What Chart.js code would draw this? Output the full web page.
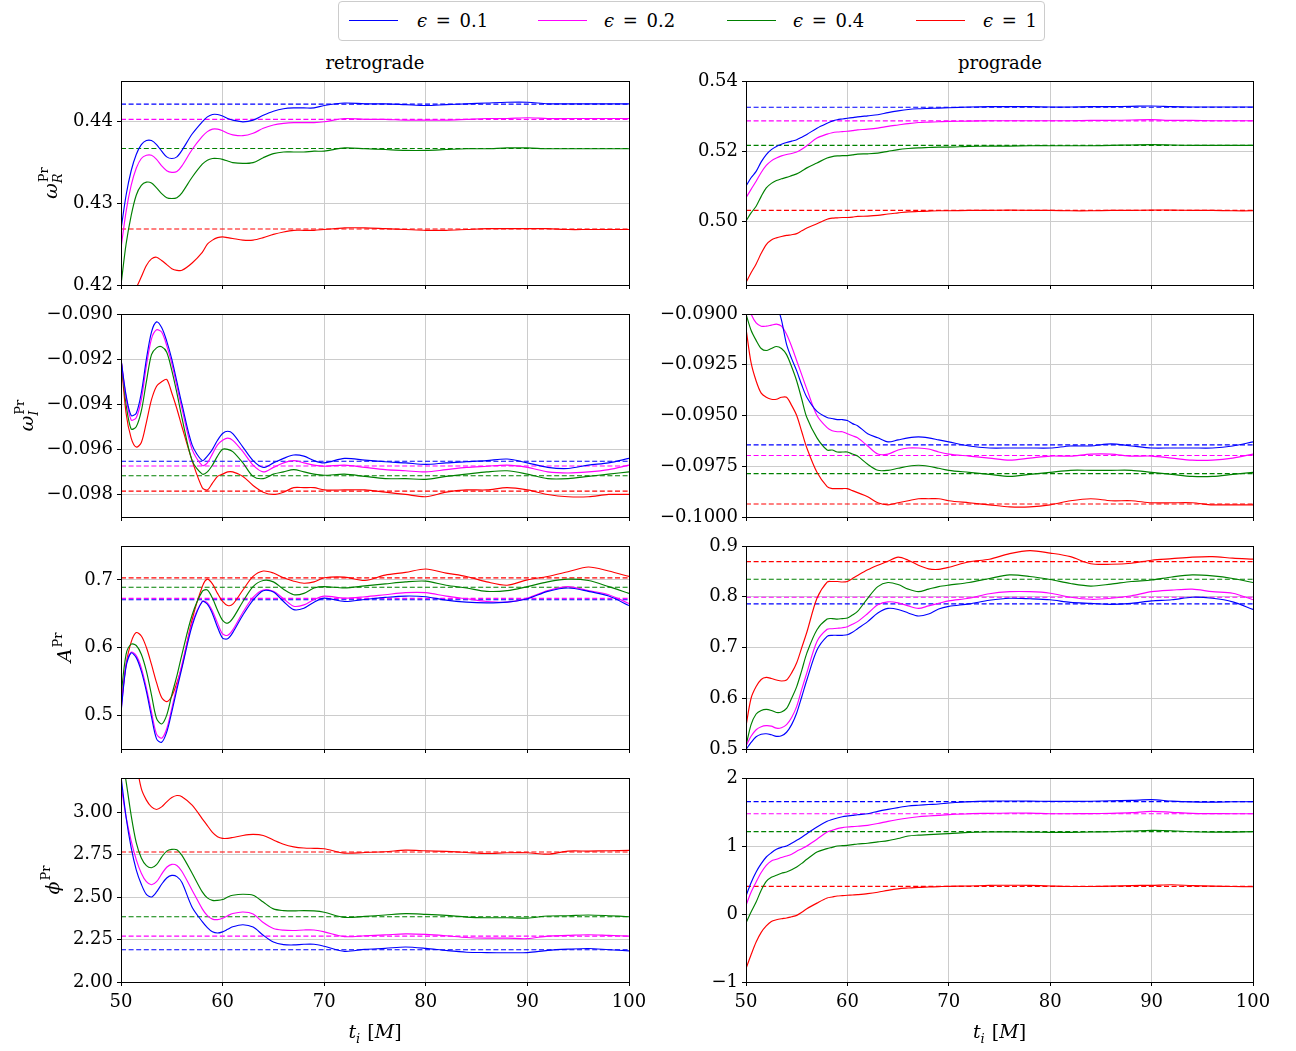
<!DOCTYPE html>
<html>
<head>
<meta charset="utf-8">
<script src="https://cdn.jsdelivr.net/npm/chart.js@4"></script>
<style>
  body { margin: 0; background: #fff; }
  #wrap { position: relative; width: 1296px; height: 1051px; overflow: hidden; font-family: "DejaVu Serif", serif; color: #000; }
  #wrap canvas { position: absolute; }
  #legend { position: absolute; left: 338px; top: 1px; width: 705px; height: 38px; border: 1.5px solid #cccccc; border-radius: 4px; background: #fff; z-index: 5; }
  .swatch { position: absolute; top: 18px; width: 49px; height: 0; border-top: 1.3px solid; }
  .lab { position: absolute; top: 8px; font-size: 18px; word-spacing: 3px; white-space: nowrap; }
  .coltitle { position: absolute; top: 52px; font-size: 18px; transform: translateX(-50%); white-space: nowrap; }
</style>
</head>
<body>
<div id="wrap">
  <div id="legend"></div>
  <div class="coltitle" style="left:375px">retrograde</div>
  <div class="coltitle" style="left:1000px">prograde</div>
</div>
<script>
// time samples t_i [M] shared by every curve
const tGrid = [50, 50.5, 51, 51.5, 52, 52.5, 53, 53.5, 54, 54.5,
  55, 55.5, 56, 57, 58, 58.5, 59, 59.5, 60, 60.5,
  61, 62, 63, 64, 65, 66, 67, 68, 69, 70,
  72, 74, 76, 78, 80, 82, 84, 86, 88, 90,
  92, 94, 96, 98, 100];

const epsLabels = ['0.1', '0.2', '0.4', '1'];
const epsColors = ['#0000ff', '#ff00ff', '#008000', '#ff0000'];
const xTicks = [50, 60, 70, 80, 90, 100];

// omega_R retrograde
const omRRetro01 = [.4268, .4310, .4340, .4360, .4372, .4377, .4377, .4372, .4364, .4357,
  .4355, .4357, .4365, .4385, .4400, .4406, .4409, .4409, .4407, .4404,
  .4402, .4400, .4402, .4408, .4413, .4416, .4417, .4417, .4417, .4420,
  .4423, .4422, .4422, .4421, .4420, .4421, .4422, .4423, .4424, .4424,
  .4422, .4422, .4422, .4422, .4422];
const omRRetro02 = [.4245, .4290, .4322, .4343, .4355, .4359, .4359, .4354, .4346, .4340,
  .4338, .4339, .4346, .4366, .4382, .4388, .4391, .4391, .4389, .4386,
  .4384, .4383, .4386, .4392, .4396, .4398, .4399, .4399, .4399, .4400,
  .4404, .4403, .4403, .4402, .4402, .4402, .4403, .4404, .4404, .4405,
  .4404, .4404, .4404, .4404, .4404];
const omRRetro04 = [.4200, .4250, .4285, .4310, .4322, .4326, .4325, .4319, .4312, .4307,
  .4306, .4307, .4313, .4332, .4348, .4353, .4355, .4355, .4354, .4352,
  .4350, .4349, .4350, .4356, .4361, .4363, .4363, .4363, .4364, .4364,
  .4368, .4367, .4366, .4365, .4365, .4366, .4367, .4367, .4368, .4368,
  .4367, .4367, .4367, .4367, .4367];
const omRRetro1 = [.4130, .4155, .4178, .4196, .4210, .4224, .4232, .4234, .4230, .4225,
  .4220, .4218, .4218, .4227, .4240, .4250, .4255, .4258, .4259, .4258,
  .4257, .4255, .4255, .4258, .4262, .4265, .4267, .4267, .4267, .4268,
  .4270, .4270, .4269, .4268, .4267, .4267, .4268, .4269, .4269, .4269,
  .4269, .4268, .4268, .4268, .4268];
const omRRetroRef = [0.44216, 0.44029, 0.43673, 0.42686];
const omRRetroTicks = [0.42, 0.43, 0.44];

// omega_R prograde
const omRPro01 = [.5101, .5125, .5143, .5170, .5191, .5205, .5214, .5220, .5225, .5229,
  .5233, .5240, .5248, .5266, .5280, .5286, .5290, .5292, .5294, .5296,
  .5298, .5301, .5304, .5310, .5315, .5319, .5321, .5322, .5323, .5324,
  .5326, .5327, .5327, .5327, .5326, .5326, .5327, .5327, .5328, .5329,
  .5327, .5326, .5326, .5326, .5326];
const omRPro02 = [.5068, .5092, .5115, .5140, .5160, .5173, .5181, .5187, .5191, .5194,
  .5198, .5206, .5216, .5238, .5249, .5253, .5255, .5256, .5257, .5259,
  .5261, .5263, .5266, .5271, .5275, .5279, .5282, .5283, .5284, .5285,
  .5286, .5287, .5287, .5287, .5287, .5287, .5288, .5288, .5289, .5290,
  .5288, .5288, .5287, .5287, .5287];
const omRPro04 = [.5002, .5025, .5044, .5072, .5096, .5109, .5117, .5122, .5126, .5131,
  .5136, .5144, .5153, .5167, .5181, .5185, .5187, .5188, .5188, .5190,
  .5192, .5193, .5195, .5200, .5205, .5208, .5210, .5211, .5212, .5212,
  .5214, .5215, .5215, .5216, .5216, .5216, .5216, .5217, .5218, .5219,
  .5218, .5217, .5217, .5217, .5217];
const omRPro1 = [.4827, .4855, .4880, .4910, .4935, .4948, .4954, .4958, .4961, .4963,
  .4966, .4974, .4982, .4994, .5007, .5010, .5011, .5012, .5012, .5013,
  .5015, .5016, .5018, .5022, .5025, .5028, .5029, .5030, .5031, .5031,
  .5032, .5032, .5033, .5032, .5032, .5031, .5031, .5032, .5032, .5033,
  .5033, .5032, .5032, .5031, .5031];
const omRProRef = [0.53255, 0.52868, 0.5217, 0.5032];
const omRProTicks = [0.50, 0.52, 0.54];

// omega_I retrograde
const omIRetro01 = [-.0920, -.0936, -.0945, -.0944, -.0935, -.0920, -.0908, -.09035, -.0906, -.0912,
  -.0920, -.0930, -.0940, -.0958, -.0965, -.0963, -.0960, -.0956, -.0953, -.0952,
  -.0953, -.0959, -.0965, -.0968, -.0966, -.0964, -.09625, -.0963, -.0965, -.0966,
  -.0964, -.09648, -.09655, -.0966, -.09667, -.0966, -.09655, -.0965, -.09643, -.0966,
  -.0968, -.09685, -.0967, -.0966, -.0964];
const omIRetro02 = [-.0920, -.0937, -.0947, -.0946, -.0938, -.0923, -.0911, -.0907, -.0908, -.0914,
  -.0922, -.0932, -.0942, -.0960, -.09672, -.0966, -.0962, -.0958, -.0956, -.0955,
  -.0956, -.0961, -.0967, -.0970, -.0968, -.0966, -.0965, -.0966, -.0967, -.09675,
  -.0967, -.0968, -.0969, -.09695, -.0970, -.0969, -.0968, -.09675, -.0967, -.0968,
  -.0970, -.09705, -.0970, -.0969, -.0967];
const omIRetro04 = [-.0920, -.0940, -.0951, -.0950, -.0943, -.0930, -.0918, -.0915, -.09145, -.0917,
  -.0925, -.0935, -.0946, -.0965, -.0971, -.0970, -.0967, -.0963, -.0960, -.0960,
  -.0961, -.0966, -.0972, -.0973, -.0971, -.0970, -.0969, -.0970, -.0971, -.09715,
  -.0971, -.0972, -.0973, -.0973, -.09733, -.0972, -.0971, -.0970, -.09695, -.0971,
  -.0973, -.0973, -.0972, -.0971, -.0970];
const omIRetro1 = [-.0920, -.0944, -.0955, -.0959, -.0957, -.0948, -.0938, -.0932, -.0930, -.0929,
  -.0935, -.0942, -.0950, -.0965, -.0977, -.0978, -.0975, -.0972, -.0971, -.0970,
  -.0970, -.0972, -.0976, -.0979, -.0980, -.0979, -.0977, -.0977, -.0977, -.0978,
  -.0978, -.0978, -.0979, -.0980, -.0981, -.0979, -.0978, -.0978, -.0977, -.0978,
  -.0980, -.0981, -.0981, -.0980, -.0980];
const omIRetroRef = [-0.09653, -0.09674, -0.09717, -0.09785];
const omIRetroTicks = [-0.098, -0.096, -0.094, -0.092, -0.090];

// omega_I prograde
const omIPro01 = [-.0880, -.0882, -.0884, -.0886, -.0887, -.0889, -.0895, -.0903, -.0915, -.0922,
  -.0928, -.0935, -.0941, -.0948, -.0951, -.09515, -.0952, -.0952, -.09525, -.0954,
  -.0955, -.0959, -.0961, -.0963, -.0962, -.0961, -.09605, -.0961, -.0962, -.0963,
  -.0965, -.0966, -.0966, -.0966, -.0966, -.0965, -.0965, -.0964, -.0965, -.0966,
  -.0966, -.0966, -.0966, -.0965, -.0963];
const omIPro02 = [-.0893, -.0900, -.09044, -.0906, -.0906, -.09055, -.0905, -.0906, -.0910, -.0916,
  -.0923, -.0930, -.0937, -.0950, -.0956, -.09575, -.0958, -.0958, -.0959, -.0960,
  -.0961, -.0965, -.0969, -.0969, -.0967, -.0966, -.0966, -.09665, -.0968, -.0969,
  -.0970, -.0971, -.0972, -.0971, -.0970, -.0970, -.0969, -.0969, -.0970, -.0970,
  -.0971, -.0972, -.0972, -.0971, -.0969];
const omIPro04 = [-.0900, -.0908, -.0913, -.0917, -.0918, -.0917, -.0916, -.0917, -.0920, -.0926,
  -.0933, -.0942, -.0951, -.0961, -.0967, -.0967, -.0968, -.0968, -.0968, -.0969,
  -.0970, -.0974, -.0977, -.0977, -.0976, -.0975, -.09745, -.0975, -.0976, -.0977,
  -.0978, -.0979, -.0980, -.0979, -.0978, -.0977, -.0977, -.0977, -.0977, -.0978,
  -.0979, -.0980, -.0980, -.0979, -.0978];
const omIPro1 = [-.0907, -.0924, -.0933, -.0939, -.0941, -.0942, -.0942, -.0941, -.0941, -.0945,
  -.0950, -.0958, -.0966, -.0978, -.0985, -.0986, -.0986, -.0986, -.0986, -.0987,
  -.0988, -.0990, -.0993, -.0994, -.0993, -.0992, -.0991, -.0991, -.0991, -.0992,
  -.0993, -.0994, -.0995, -.0995, -.0994, -.0992, -.0991, -.0992, -.0992, -.0993,
  -.0993, -.0993, -.0994, -.0994, -.0994];
const omIProRef = [-0.09645, -0.09697, -0.09786, -0.09936];
const omIProTicks = [-0.1, -0.0975, -0.095, -0.0925, -0.09];

// amplitude retrograde
const ampRetro01 = [.504, .572, .592, .585, .565, .535, .498, .465, .460, .475,
  .505, .538, .570, .632, .668, .664, .650, .630, .614, .613,
  .622, .648, .670, .684, .682, .668, .656, .658, .667, .673,
  .668, .671, .674, .676, .675, .670, .667, .666, .667, .672,
  .683, .688, .683, .676, .662];
const ampRetro02 = [.506, .574, .593, .588, .570, .540, .505, .472, .466, .480,
  .510, .543, .575, .636, .668, .666, .654, .636, .620, .618,
  .626, .652, .674, .685, .683, .672, .661, .663, .671, .676,
  .673, .675, .678, .681, .681, .676, .672, .668, .667, .673,
  .684, .690, .684, .678, .665];
const ampRetro04 = [.528, .590, .605, .603, .590, .565, .530, .495, .487, .500,
  .530, .558, .590, .648, .683, .685, .673, .655, .640, .636,
  .643, .668, .690, .699, .697, .686, .678, .680, .688, .690,
  .688, .691, .694, .697, .698, .692, .688, .683, .684, .690,
  .697, .701, .699, .690, .680];
const ampRetro1 = [.514, .575, .608, .622, .617, .600, .575, .548, .526, .520,
  .528, .548, .572, .641, .690, .701, .694, .680, .668, .662,
  .664, .685, .705, .713, .710, .703, .698, .695, .697, .703,
  .704, .699, .707, .711, .716, .710, .705, .697, .692, .700,
  .705, .712, .719, .713, .705];
const ampRetroRef = [0.6706, 0.6725, 0.689, 0.703];
const ampRetroTicks = [0.5, 0.6, 0.7];

// amplitude prograde
const ampPro01 = [.499, .513, .524, .529, .530, .528, .525, .526, .533, .548,
  .571, .603, .636, .695, .722, .724, .724, .724, .725, .730,
  .737, .751, .768, .777, .775, .768, .762, .766, .776, .781,
  .786, .793, .797, .796, .794, .789, .787, .785, .787, .792,
  .794, .799, .797, .790, .775];
const ampPro02 = [.506, .525, .538, .544, .546, .545, .541, .542, .548, .562,
  .584, .618, .650, .712, .736, .737, .738, .739, .741, .746,
  .751, .767, .784, .790, .788, .782, .777, .782, .787, .792,
  .797, .806, .810, .810, .807, .799, .795, .797, .802, .810,
  .813, .815, .810, .807, .794];
const ampPro04 = [.506, .548, .569, .576, .578, .576, .572, .573, .580, .600,
  .623, .655, .689, .735, .756, .757, .756, .757, .758, .764,
  .771, .797, .820, .828, .824, .815, .810, .815, .820, .823,
  .828, .836, .843, .840, .834, .826, .821, .825, .830, .833,
  .839, .843, .841, .836, .828];
const ampPro1 = [.545, .600, .623, .637, .641, .639, .636, .634, .636, .650,
  .670, .700, .730, .797, .829, .830, .830, .829, .830, .836,
  .842, .853, .862, .870, .878, .872, .862, .855, .854, .858,
  .869, .874, .885, .891, .886, .879, .865, .864, .866, .872,
  .875, .878, .879, .876, .874];
const ampProRef = [0.7859, 0.799, 0.8344, 0.8692];
const ampProTicks = [0.5, 0.6, 0.7, 0.8, 0.9];

// phase retrograde
const phiRetro01 = [3.21, 2.97, 2.79, 2.66, 2.575, 2.515, 2.50, 2.53, 2.575, 2.612,
  2.627, 2.62, 2.585, 2.44, 2.355, 2.32, 2.295, 2.288, 2.295, 2.31,
  2.325, 2.337, 2.323, 2.275, 2.235, 2.22, 2.218, 2.222, 2.222, 2.21,
  2.18, 2.192, 2.198, 2.206, 2.198, 2.185, 2.175, 2.173, 2.172, 2.173,
  2.186, 2.193, 2.197, 2.19, 2.183];
const phiRetro02 = [3.16, 2.97, 2.83, 2.72, 2.64, 2.59, 2.572, 2.59, 2.635, 2.675,
  2.692, 2.685, 2.65, 2.54, 2.43, 2.39, 2.37, 2.367, 2.375, 2.39,
  2.403, 2.412, 2.40, 2.35, 2.315, 2.305, 2.303, 2.306, 2.306, 2.295,
  2.267, 2.272, 2.277, 2.283, 2.28, 2.272, 2.262, 2.258, 2.258, 2.255,
  2.27, 2.274, 2.278, 2.274, 2.27];
const phiRetro04 = [3.35, 3.18, 2.98, 2.82, 2.73, 2.685, 2.672, 2.69, 2.735, 2.77,
  2.78, 2.778, 2.745, 2.64, 2.53, 2.495, 2.48, 2.48, 2.485, 2.50,
  2.51, 2.516, 2.51, 2.47, 2.43, 2.42, 2.418, 2.42, 2.418, 2.41,
  2.38, 2.386, 2.394, 2.402, 2.398, 2.392, 2.382, 2.378, 2.378, 2.376,
  2.388, 2.39, 2.394, 2.39, 2.384];
const phiRetro1 = [3.80, 3.62, 3.45, 3.29, 3.137, 3.07, 3.03, 3.015, 3.03, 3.06,
  3.085, 3.097, 3.09, 3.04, 2.96, 2.92, 2.88, 2.855, 2.845, 2.845,
  2.85, 2.862, 2.868, 2.862, 2.835, 2.81, 2.795, 2.788, 2.786, 2.784,
  2.758, 2.762, 2.766, 2.776, 2.772, 2.768, 2.762, 2.756, 2.76, 2.76,
  2.752, 2.77, 2.77, 2.772, 2.774];
const phiRetroRef = [2.19, 2.27, 2.384, 2.765];
const phiRetroTicks = [2.00, 2.25, 2.50, 2.75, 3.00];

// phase prograde
const phiPro01 = [.265, .46, .618, .74, .838, .90, .951, .98, 1.0, 1.04,
  1.083, 1.13, 1.18, 1.28, 1.363, 1.39, 1.412, 1.43, 1.441, 1.45,
  1.46, 1.475, 1.51, 1.539, 1.565, 1.588, 1.60, 1.61, 1.618, 1.632,
  1.652, 1.66, 1.662, 1.66, 1.657, 1.656, 1.658, 1.665, 1.67, 1.681,
  1.66, 1.648, 1.645, 1.65, 1.652];
const phiPro02 = [.127, .32, .47, .61, .716, .78, .804, .83, .853, .88,
  .922, .96, 1.0, 1.10, 1.206, 1.23, 1.255, 1.27, 1.279, 1.285,
  1.29, 1.304, 1.33, 1.363, 1.39, 1.412, 1.43, 1.441, 1.451, 1.461,
  1.475, 1.48, 1.485, 1.483, 1.475, 1.475, 1.476, 1.48, 1.49, 1.51,
  1.495, 1.48, 1.476, 1.475, 1.475];
const phiPro04 = [-.132, .03, .176, .35, .48, .54, .569, .60, .618, .65,
  .691, .745, .804, .912, .961, .98, 1.0, 1.005, 1.01, 1.02,
  1.03, 1.04, 1.06, 1.079, 1.11, 1.147, 1.16, 1.167, 1.175, 1.181,
  1.20, 1.206, 1.208, 1.204, 1.20, 1.20, 1.206, 1.21, 1.22, 1.23,
  1.225, 1.21, 1.205, 1.205, 1.211];
const phiPro1 = [-.804, -.60, -.412, -.27, -.176, -.11, -.085, -.07, -.059, -.04,
  -.02, .025, .078, .16, .235, .25, .265, .27, .275, .28,
  .285, .299, .32, .348, .37, .382, .392, .397, .402, .407,
  .412, .42, .423, .42, .412, .405, .405, .41, .418, .422,
  .43, .418, .41, .405, .40];
const phiProRef = [1.652, 1.475, 1.211, 0.407];
const phiProTicks = [-1, 0, 1, 2];

// axis labels (math pieces)
const labOmR = [{t: 'ω', it: true}, {sub: 'R', sup: 'Pr'}];
const labOmI = [{t: 'ω', it: true}, {sub: 'I', sup: 'Pr'}];
const labAmp = [{t: 'A', it: true}, {sup: 'Pr'}];
const labPhi = [{t: 'ϕ', it: true}, {sup: 'Pr'}];
const labTime = [{t: 't', it: true}, {sub: 'i'}, {t: ' [', it: false}, {t: 'M', it: true}, {t: ']', it: false}];

const panels = [
  {row: 0, col: 0, series: [omRRetro01, omRRetro02, omRRetro04, omRRetro1], ref: omRRetroRef, ticks: omRRetroTicks, min: 0.42, max: 0.445, dec: 2, label: labOmR, labelX: 56.5},
  {row: 0, col: 1, series: [omRPro01, omRPro02, omRPro04, omRPro1], ref: omRProRef, ticks: omRProTicks, min: 0.482, max: 0.54, dec: 2},
  {row: 1, col: 0, series: [omIRetro01, omIRetro02, omIRetro04, omIRetro1], ref: omIRetroRef, ticks: omIRetroTicks, min: -0.099, max: -0.090, dec: 3, label: labOmI, labelX: 33},
  {row: 1, col: 1, series: [omIPro01, omIPro02, omIPro04, omIPro1], ref: omIProRef, ticks: omIProTicks, min: -0.1, max: -0.09, dec: 4},
  {row: 2, col: 0, series: [ampRetro01, ampRetro02, ampRetro04, ampRetro1], ref: ampRetroRef, ticks: ampRetroTicks, min: 0.45, max: 0.75, dec: 1, label: labAmp, labelX: 71},
  {row: 2, col: 1, series: [ampPro01, ampPro02, ampPro04, ampPro1], ref: ampProRef, ticks: ampProTicks, min: 0.5, max: 0.9, dec: 1},
  {row: 3, col: 0, series: [phiRetro01, phiRetro02, phiRetro04, phiRetro1], ref: phiRetroRef, ticks: phiRetroTicks, min: 2.0, max: 3.2, dec: 2, label: labPhi, labelX: 59},
  {row: 3, col: 1, series: [phiPro01, phiPro02, phiPro04, phiPro1], ref: phiProRef, ticks: phiProTicks, min: -1, max: 2, dec: 0}
];

const FONT = '"DejaVu Serif", serif';

function drawMath(ctx, parts, cx, cy, rotate, baseShift) {
  const big = 19, small = 13;
  const f = (sz, it) => (it ? 'italic ' : '') + sz + 'px ' + FONT;
  ctx.save();
  ctx.translate(cx, cy);
  if (rotate) ctx.rotate(-Math.PI / 2);
  let w = 0;
  const items = parts.map(p => {
    let pw;
    if (p.t !== undefined) {
      ctx.font = f(big, p.it);
      pw = ctx.measureText(p.t).width;
    } else {
      ctx.font = f(small, true);
      const ws = p.sub ? ctx.measureText(p.sub).width : 0;
      ctx.font = f(small, false);
      const wp = p.sup ? ctx.measureText(p.sup).width : 0;
      pw = Math.max(ws, wp) + 1;
    }
    const it = Object.assign({x: w}, p);
    w += pw;
    return it;
  });
  ctx.fillStyle = '#000';
  ctx.textBaseline = 'alphabetic';
  items.forEach(it => {
    const x = it.x - w / 2;
    if (it.t !== undefined) {
      ctx.font = f(big, it.it);
      ctx.fillText(it.t, x, baseShift);
    } else {
      if (it.sup) { ctx.font = f(small, false); ctx.fillText(it.sup, x + 1, baseShift - 9); }
      if (it.sub) { ctx.font = f(small, true); ctx.fillText(it.sub, x, baseShift + 5); }
    }
  });
  ctx.restore();
}

const framePlugin = {
  id: 'frame',
  afterDraw(chart) {
    const {ctx, chartArea: a} = chart;
    const l = Math.round(a.left) + 0.5, t = Math.round(a.top) + 0.5;
    const r = Math.round(a.right) + 0.5, b = Math.round(a.bottom) + 0.5;
    ctx.save();
    ctx.strokeStyle = '#000';
    ctx.lineWidth = 1;
    ctx.strokeRect(l, t, r - l, b - t);
    ctx.restore();
  }
};

function labelPlugin(p) {
  return {
    id: 'mathLabels',
    afterDraw(chart) {
      const a = chart.chartArea;
      if (p.label) {
        // rotated: local +y points right, so the baseline sits at labelX
        drawMath(chart.ctx, p.label, p.labelX, (a.top + a.bottom) / 2, true, 0);
      }
      if (p.row === 3) {
        drawMath(chart.ctx, labTime, (a.left + a.right) / 2, a.bottom + 56, false, 0);
      }
    }
  };
}

const wrap = document.getElementById('wrap');
const tops = [66, 299, 531, 763];
const heights = [234, 233, 233, 288];

function fmt(v, dec) {
  return v.toFixed(dec).replace('-', '\u2212');
}

panels.forEach(p => {
  const cv = document.createElement('canvas');
  const w = p.col === 0 ? 670 : 656;
  cv.width = w;
  cv.height = heights[p.row];
  cv.style.left = (p.col === 0 ? 0 : 640) + 'px';
  cv.style.top = tops[p.row] + 'px';
  wrap.appendChild(cv);

  const bottomRow = p.row === 3;
  const datasets = [];
  p.series.forEach((s, i) => {
    datasets.push({
      data: tGrid.map((t, k) => ({x: t, y: s[k]})),
      borderColor: epsColors[i], borderWidth: 1.15, pointRadius: 0, tension: 0.3, fill: false
    });
  });
  p.ref.forEach((v, i) => {
    datasets.push({
      data: [{x: 50, y: v}, {x: 100, y: v}],
      borderColor: epsColors[i], borderWidth: 1.15, borderDash: [5, 2.6], pointRadius: 0, fill: false
    });
  });

  new Chart(cv, {
    type: 'line',
    data: {datasets},
    plugins: [framePlugin, labelPlugin(p)],
    options: {
      responsive: false,
      animation: false,
      events: [],
      layout: {padding: {top: 15, right: p.col === 0 ? 41 : 43, left: 0, bottom: 0}},
      plugins: {legend: {display: false}, tooltip: {enabled: false}},
      scales: {
        x: {
          type: 'linear', min: 50, max: 100,
          afterBuildTicks: s => { s.ticks = xTicks.map(v => ({value: v})); },
          afterFit: s => { s.height = bottomRow ? 69 : 15; },
          ticks: {display: bottomRow, font: {family: FONT, size: 18}, color: '#000', padding: 6, maxRotation: 0, autoSkip: false,
            callback: v => String(v)},
          grid: {color: '#cccccc', lineWidth: 1, tickColor: '#000', tickLength: 4},
          border: {display: false}
        },
        y: {
          type: 'linear', min: p.min, max: p.max,
          afterBuildTicks: s => { s.ticks = p.ticks.map(v => ({value: v})); },
          afterFit: s => { s.width = p.col === 0 ? 121 : 106; },
          ticks: {font: {family: FONT, size: 18}, color: '#000', padding: 4, autoSkip: false,
            callback: v => fmt(v, p.dec)},
          grid: {color: '#cccccc', lineWidth: 1, tickColor: '#000', tickLength: 4},
          border: {display: false}
        }
      }
    }
  });
});

// legend
const legend = document.getElementById('legend');
const swatchX = [10, 199, 388, 577];
const textX = [78, 265, 454, 644];
epsLabels.forEach((lab, i) => {
  const sw = document.createElement('div');
  sw.className = 'swatch';
  sw.style.left = swatchX[i] + 'px';
  sw.style.borderTopColor = epsColors[i];
  legend.appendChild(sw);
  const tx = document.createElement('div');
  tx.className = 'lab';
  tx.style.left = textX[i] + 'px';
  tx.innerHTML = '<i>\u03f5</i> = ' + lab;
  legend.appendChild(tx);
});
</script>
</body>
</html>
